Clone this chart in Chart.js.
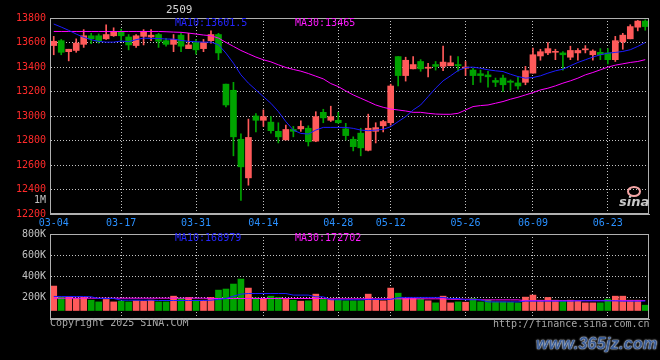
<!DOCTYPE html>
<html>
<head>
<meta charset="utf-8">
<script src="https://cdn.jsdelivr.net/npm/chart.js@4.4.1/dist/chart.umd.min.js"></script>
<style>
    html, body { margin: 0; padding: 0; background: #000; }
    #wrap { position: relative; width: 660px; height: 360px; background: #000; overflow: hidden;
            font-family: 'DejaVu Sans Mono', monospace; font-size: 10px; }
    #priceChart { position: absolute; left: 0; top: 0; }
    #volChart { position: absolute; left: 0; top: 220px; }
    .txt { position: absolute; white-space: nowrap; line-height: 10px; }
    .gray { color: #a8a8a8; }
    .ma10 { color: #2626ff; }
    .ma30 { color: #ff1aff; }
    #mark { position: absolute; left: 536px; top: 335px; font: italic bold 16px 'Liberation Sans', sans-serif;
            color: #3a5c96; text-shadow: 0 0 2px #e8eef8, 0 0 1px #ffffff; letter-spacing: 0.3px; }
    #sinaEye { position: absolute; left: 627px; top: 186px; width: 10px; height: 7px;
               border: 2px solid #f3a4a4; border-radius: 50%; }
    #sinaTxt { position: absolute; left: 619px; top: 194px; font: italic bold 13px 'DejaVu Sans', sans-serif; color: #c8c8c8; }
</style>
</head>
<body>
<div id="wrap">
    <canvas id="priceChart" width="660" height="232"></canvas>
    <canvas id="volChart" width="660" height="110"></canvas>

    <div class="txt" style="left:166px; top:5px; color:#d4d4d4; font-size:11px;">2509</div>
    <div class="txt ma10" style="left:175px; top:18px;">MA10:13601.5</div>
    <div class="txt ma30" style="left:295px; top:18px;">MA30:13465</div>
    <div id="sinaEye"></div>
    <div id="sinaTxt">sina</div>
    <div class="txt gray" style="left:34px; top:195px; color:#c0c0c0;">1M</div>

    <div class="txt ma10" style="left:175px; top:233px;">MA10:168979</div>
    <div class="txt ma30" style="left:295px; top:233px;">MA30:172702</div>
    <div class="txt gray" style="left:50px; top:318px;">Copyright 2025 SINA.COM</div>
    <div class="txt gray" style="left:493px; top:319px;">http://finance.sina.com.cn</div>
    <div id="mark">www.365jz.com</div>
</div>

<script>
    var DATES = [
        '03-04', '03-05', '03-06', '03-07', '03-10', '03-11', '03-12', '03-13', '03-14', '03-17',
        '03-18', '03-19', '03-20', '03-21', '03-24', '03-25', '03-26', '03-27', '03-28', '03-31',
        '04-01', '04-02', '04-03', '04-07', '04-08', '04-09', '04-10', '04-11', '04-14', '04-15',
        '04-16', '04-17', '04-18', '04-21', '04-22', '04-23', '04-24', '04-25', '04-28', '04-29',
        '04-30', '05-06', '05-07', '05-08', '05-09', '05-12', '05-13', '05-14', '05-15', '05-16',
        '05-19', '05-20', '05-21', '05-22', '05-23', '05-26', '05-27', '05-28', '05-29', '05-30',
        '06-03', '06-04', '06-05', '06-06', '06-09', '06-10', '06-11', '06-12', '06-13', '06-16',
        '06-17', '06-18', '06-19', '06-20', '06-23', '06-24', '06-25', '06-26', '06-27', '06-30'
    ];
    var TICK_DATES = ['03-04', '03-17', '03-31', '04-14', '04-28', '05-12', '05-26', '06-09', '06-23'];

    var OPEN = [
        13575, 13615, 13525, 13535, 13585, 13655, 13655, 13630, 13655, 13690,
        13645, 13575, 13650, 13645, 13665, 13615, 13585, 13660, 13550, 13600,
        13550, 13615, 13665, 13260, 13210, 12810, 12495, 13000, 12965, 12950,
        12875, 12805, 12890, 12895, 12900, 12795, 13030, 12965, 12965, 12895,
        12810, 12860, 12720, 12875, 12920, 12945, 13485, 13330, 13385, 13445,
        13390, 13420, 13405, 13410, 13420, 13390, 13375, 13345, 13335, 13290,
        13310, 13285, 13270, 13275, 13350, 13490, 13515, 13520, 13515, 13480,
        13515, 13540, 13500, 13520, 13515, 13460, 13605, 13630, 13725, 13775
    ];
    var HIGH = [
        13650, 13625, 13545, 13630, 13705, 13675, 13670, 13745, 13720, 13710,
        13665, 13665, 13705, 13705, 13675, 13635, 13665, 13675, 13675, 13625,
        13625, 13695, 13675, 13260, 13275, 12855, 12975, 13020, 13050, 12995,
        12945, 12925, 12915, 12960, 12920, 13035, 13055, 13080, 13030, 12940,
        12830, 12900, 13015, 12945, 12965, 13260, 13485, 13480, 13485, 13460,
        13430, 13445, 13570, 13490, 13485, 13445, 13390, 13375, 13365, 13310,
        13335, 13295, 13315, 13405, 13555, 13545, 13600, 13545, 13525, 13570,
        13550, 13575, 13540, 13550, 13550, 13650, 13675, 13745, 13780, 13785
    ];
    var LOW = [
        13500, 13500, 13450, 13520, 13560, 13590, 13595, 13625, 13650, 13615,
        13540, 13560, 13580, 13615, 13560, 13570, 13525, 13525, 13550, 13505,
        13525, 13595, 13460, 13075, 12675, 12310, 12435, 12870, 12915, 12860,
        12780, 12805, 12830, 12875, 12755, 12790, 12945, 12955, 12940, 12805,
        12715, 12675, 12715, 12780, 12870, 12925, 13245, 13285, 13385, 13365,
        13320, 13375, 13370, 13410, 13365, 13330, 13255, 13275, 13235, 13240,
        13200, 13210, 13220, 13255, 13350, 13455, 13500, 13460, 13375, 13460,
        13455, 13515, 13455, 13460, 13425, 13445, 13545, 13630, 13695, 13700
    ];
    var CLOSE = [
        13610, 13520, 13545, 13595, 13655, 13630, 13610, 13665, 13690, 13655,
        13580, 13655, 13690, 13660, 13610, 13585, 13625, 13570, 13580, 13540,
        13600, 13665, 13515, 13090, 12830, 12585, 12825, 12965, 12995, 12880,
        12830, 12890, 12875, 12915, 12790, 12995, 12985, 12995, 12945, 12840,
        12750, 12740, 12900, 12905, 12955, 13245, 13330, 13455, 13420, 13385,
        13395, 13405, 13440, 13435, 13410, 13400, 13330, 13330, 13320, 13275,
        13255, 13275, 13245, 13370, 13500, 13525, 13550, 13525, 13500, 13535,
        13535, 13545, 13530, 13500, 13460, 13615, 13660, 13730, 13775, 13730
    ];
    var MA10 = [
        13751, 13726, 13699, 13669, 13642, 13623, 13609, 13603, 13603, 13612,
        13606, 13623, 13636, 13633, 13633, 13628, 13628, 13617, 13609, 13606,
        13603, 13603, 13582, 13513, 13431, 13336, 13268, 13213, 13158, 13104,
        13036, 12954, 12885, 12858, 12853, 12885, 12907, 12907, 12907, 12907,
        12899, 12885, 12880, 12885, 12891, 12913, 12954, 12995, 13049, 13090,
        13158, 13227, 13287, 13328, 13371, 13396, 13399, 13390, 13377, 13369,
        13363, 13341, 13322, 13309, 13314, 13328, 13350, 13369, 13382, 13410,
        13437, 13459, 13481, 13500, 13513, 13519, 13527, 13541, 13568, 13600
    ];
    var MA30 = [
        13690, 13690, 13690, 13690, 13690, 13690, 13690, 13690, 13690, 13690,
        13690, 13690, 13690, 13690, 13690, 13688, 13685, 13683, 13677, 13669,
        13661, 13655, 13636, 13601, 13568, 13535, 13508, 13481, 13459, 13442,
        13418, 13396, 13380, 13366, 13347, 13325, 13303, 13265, 13240, 13205,
        13172, 13145, 13118, 13090, 13071, 13057, 13049, 13041, 13030, 13030,
        13022, 13016, 13014, 13014, 13022, 13049, 13077, 13085, 13090, 13104,
        13118, 13137, 13153, 13172, 13191, 13213, 13227, 13246, 13268, 13287,
        13309, 13336, 13355, 13377, 13399, 13415, 13426, 13437, 13445, 13460
    ];

    var VOLUME = [
        310000, 205000, 209000, 193000, 203000, 177000, 161000, 184000, 161000, 168000,
        161000, 171000, 168000, 177000, 161000, 161000, 215000, 193000, 203000, 177000,
        177000, 203000, 272000, 282000, 329000, 376000, 291000, 199000, 187000, 215000,
        203000, 184000, 177000, 168000, 171000, 234000, 184000, 184000, 177000, 171000,
        171000, 171000, 234000, 184000, 171000, 291000, 243000, 193000, 193000, 187000,
        171000, 152000, 215000, 152000, 161000, 158000, 193000, 161000, 177000, 161000,
        161000, 158000, 152000, 206000, 225000, 177000, 203000, 177000, 171000, 177000,
        171000, 152000, 152000, 152000, 187000, 215000, 215000, 177000, 177000, 130000
    ];
    var VOL_MA10 = [
        212000, 212000, 212000, 212000, 212000, 209000, 193000, 193000, 193000, 177000,
        177000, 177000, 177000, 177000, 174000, 174000, 174000, 174000, 174000, 174000,
        174000, 177000, 184000, 193000, 215000, 234000, 240000, 240000, 240000, 240000,
        240000, 240000, 225000, 225000, 225000, 209000, 209000, 181000, 181000, 181000,
        181000, 181000, 184000, 184000, 184000, 184000, 203000, 203000, 203000, 203000,
        203000, 203000, 203000, 193000, 193000, 181000, 181000, 181000, 161000, 161000,
        161000, 161000, 161000, 168000, 168000, 168000, 168000, 168000, 168000, 168000,
        171000, 171000, 171000, 171000, 171000, 171000, 168000, 168000, 168000, 169000
    ];
    var VOL_MA30 = [
        196000, 196000, 196000, 196000, 196000, 196000, 196000, 196000, 196000, 196000,
        196000, 196000, 196000, 196000, 196000, 196000, 196000, 196000, 196000, 196000,
        196000, 193000, 193000, 193000, 193000, 193000, 193000, 193000, 193000, 193000,
        193000, 193000, 193000, 193000, 193000, 193000, 193000, 190000, 190000, 190000,
        190000, 190000, 190000, 190000, 190000, 190000, 190000, 190000, 190000, 190000,
        190000, 190000, 190000, 186000, 186000, 186000, 186000, 180000, 180000, 180000,
        180000, 180000, 180000, 173000, 173000, 173000, 173000, 173000, 173000, 173000,
        173000, 173000, 173000, 173000, 173000, 173000, 173000, 173000, 173000, 173000
    ];
    // volume bars do not reach the floor of the panel
    var VOL_BASE = 80000;

    var UP_COLOR = '#ff5a5a';
    var DOWN_COLOR = '#00a400';
    var GRID_COLOR = '#c4c4c4';
    var FRAME_COLOR = '#b0b0b0';
    var MONO = { family: "'DejaVu Sans Mono'", size: 10 };

    var candleColors = OPEN.map(function (o, i) {
        return CLOSE[i] >= o ? UP_COLOR : DOWN_COLOR;
    });

    var dateGridColor = function (ctx) {
        return ctx.index > 0 && TICK_DATES.indexOf(DATES[ctx.index]) >= 0 ? GRID_COLOR : 'transparent';
    };

    var framePlugin = {
        id: 'frame',
        afterDraw: function (chart) {
            var a = chart.chartArea;
            var ctx = chart.ctx;
            var l = Math.round(a.left), t = Math.round(a.top);
            ctx.save();
            ctx.strokeStyle = FRAME_COLOR;
            ctx.lineWidth = 1;
            ctx.strokeRect(l + 0.5, t + 0.5, Math.round(a.right) - l - 1, Math.round(a.bottom) - t - 1);
            ctx.restore();
        }
    };

    var xScale = function (showLabels, height) {
        return {
            offset: true,
            grid: { color: dateGridColor, offset: false, drawTicks: false },
            border: { color: FRAME_COLOR, dash: [1, 2] },
            ticks: {
                display: showLabels,
                autoSkip: false,
                maxRotation: 0,
                minRotation: 0,
                padding: 3,
                color: '#2a90ff',
                font: MONO,
                callback: function (value, index) {
                    return TICK_DATES.indexOf(DATES[index]) >= 0 ? DATES[index] : '';
                }
            },
            afterFit: function (scale) {
                scale.height = height;
            }
        };
    };

    var maLine = function (data, color) {
        return {
            type: 'line',
            data: data,
            borderColor: color,
            borderWidth: 1,
            pointRadius: 0,
            tension: 0,
            order: 0
        };
    };

    new Chart(document.getElementById('priceChart'), {
        type: 'bar',
        data: {
            labels: DATES,
            datasets: [
                maLine(MA10, '#1c1cff'),
                maLine(MA30, '#ff00ff'),
                {
                    data: OPEN.map(function (o, i) { return [o, CLOSE[i]]; }),
                    backgroundColor: candleColors,
                    barThickness: 6,
                    minBarLength: 1,
                    grouped: false,
                    order: 1
                },
                {
                    data: LOW.map(function (l, i) { return [l, HIGH[i]]; }),
                    backgroundColor: candleColors,
                    barThickness: 1,
                    grouped: false,
                    order: 2
                }
            ]
        },
        options: {
            responsive: false,
            animation: false,
            layout: { padding: { top: 18, right: 11, left: 0, bottom: 0 } },
            plugins: { legend: { display: false }, tooltip: { enabled: false } },
            scales: {
                x: xScale(true, 18),
                y: {
                    min: 12200,
                    max: 13800,
                    ticks: {
                        stepSize: 200,
                        color: '#ff2a2a',
                        font: MONO,
                        padding: 4,
                        callback: function (v) { return String(v); }
                    },
                    grid: { color: GRID_COLOR, drawTicks: false },
                    border: { color: FRAME_COLOR, dash: [1, 2] },
                    afterFit: function (scale) { scale.width = 50; }
                }
            }
        },
        plugins: [framePlugin]
    });

    new Chart(document.getElementById('volChart'), {
        type: 'bar',
        data: {
            labels: DATES,
            datasets: [
                maLine(VOL_MA10, '#1c1cff'),
                maLine(VOL_MA30, '#ff00ff'),
                {
                    data: VOLUME.map(function (v) { return [VOL_BASE, v]; }),
                    backgroundColor: candleColors,
                    barThickness: 6,
                    grouped: false,
                    order: 1
                }
            ]
        },
        options: {
            responsive: false,
            animation: false,
            layout: { padding: { top: 14, right: 11, left: 0, bottom: 0 } },
            plugins: { legend: { display: false }, tooltip: { enabled: false } },
            scales: {
                x: xScale(false, 11),
                y: {
                    min: 0,
                    max: 800000,
                    ticks: {
                        stepSize: 200000,
                        color: '#c0c0c0',
                        font: MONO,
                        padding: 4,
                        callback: function (v) { return v ? (v / 1000) + 'K' : ''; }
                    },
                    grid: { color: GRID_COLOR, drawTicks: false },
                    border: { color: FRAME_COLOR, dash: [1, 2] },
                    afterFit: function (scale) { scale.width = 50; }
                }
            }
        },
        plugins: [framePlugin]
    });
</script>
</body>
</html>
